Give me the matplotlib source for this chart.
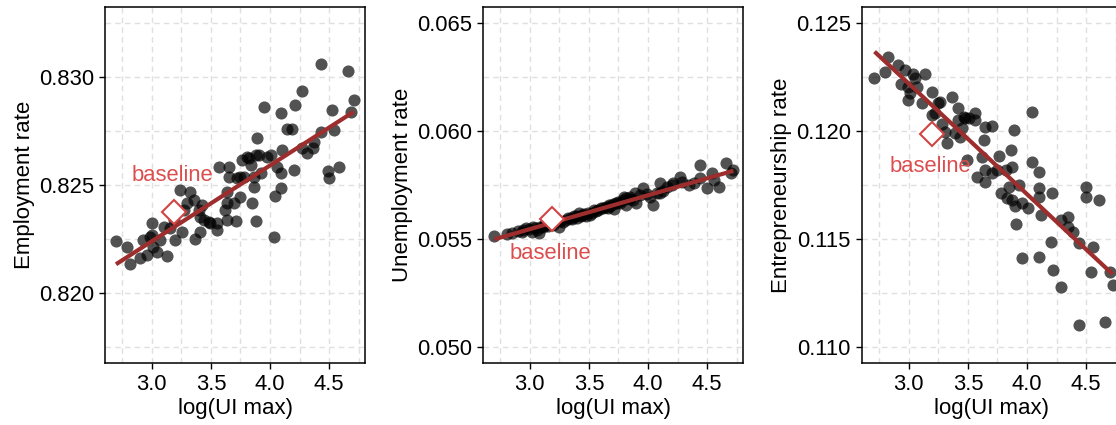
import matplotlib
matplotlib.use("Agg")
from matplotlib import pyplot as plt
from matplotlib.ticker import MultipleLocator

plt.rcParams['font.family'] = ['Liberation Sans', 'DejaVu Sans']

# ---- panel 1: employment rate ----
emp_x = [2.694, 2.788, 2.816, 2.901, 2.929, 2.958, 3.000, 3.000, 2.986, 3.014,
         3.042, 3.071, 3.127, 3.099, 3.156, 3.198, 3.184, 3.241, 3.255, 3.269,
         3.297, 3.326, 3.354, 3.362, 3.396, 3.410, 3.410, 3.425, 3.439, 3.481,
         3.495, 3.552, 3.552, 3.566, 3.623, 3.637, 3.637, 3.651, 3.651, 3.637,
         3.693, 3.708, 3.722, 3.750, 3.750, 3.764, 3.778, 3.807, 3.821, 3.835,
         3.849, 3.863, 3.877, 3.863, 3.877, 3.892, 3.906, 3.920, 3.948, 3.977,
         4.005, 4.042, 4.033, 4.061, 4.090, 4.090, 4.090, 4.104, 4.146, 4.189,
         4.203, 4.209, 4.274, 4.274, 4.316, 4.359, 4.373, 4.429, 4.429, 4.486,
         4.500, 4.528, 4.543, 4.585, 4.656, 4.684, 4.712]
emp_y = [0.82243, 0.82215, 0.82134, 0.82165, 0.82246, 0.82177, 0.82323, 0.82269, 0.82262, 0.82215,
         0.82189, 0.82246, 0.82172, 0.82308, 0.82303, 0.82246, 0.82338, 0.82477, 0.82285, 0.82385,
         0.82415, 0.82469, 0.82431, 0.82249, 0.82385, 0.82285, 0.82354, 0.82408, 0.82338, 0.82331,
         0.82323, 0.82292, 0.82326, 0.82585, 0.82385, 0.82415, 0.82469, 0.82585, 0.82538, 0.82338,
         0.82415, 0.82335, 0.82531, 0.82446, 0.82538, 0.82615, 0.82538, 0.82628, 0.82623, 0.82592,
         0.82418, 0.82492, 0.82334, 0.82538, 0.82638, 0.82715, 0.82638, 0.82554, 0.82862, 0.82631,
         0.82638, 0.82449, 0.82262, 0.82585, 0.82554, 0.82831, 0.82485, 0.82662, 0.82757, 0.82757,
         0.82569, 0.82868, 0.82934, 0.82669, 0.82646, 0.82669, 0.82700, 0.82746, 0.83058, 0.82566,
         0.82534, 0.82846, 0.82754, 0.82585, 0.83028, 0.82837, 0.82892]
emp_fit_x = [2.697, 4.707]
emp_fit_y = [0.82134, 0.82838]
emp_base = (3.184, 0.82374)
emp_label = (3.17, 0.82543)

# ---- panel 2: unemployment rate ----
unemp_x = [2.695, 2.803, 2.850, 2.903, 2.930, 2.946, 2.970, 2.989, 3.017, 3.030,
           3.046, 3.060, 3.074, 3.088, 3.110, 3.120, 3.131, 3.150, 3.174, 3.200,
           3.217, 3.230, 3.245, 3.259, 3.280, 3.302, 3.320, 3.345, 3.360, 3.375,
           3.388, 3.400, 3.416, 3.430, 3.445, 3.460, 3.473, 3.488, 3.510, 3.530,
           3.545, 3.559, 3.580, 3.602, 3.620, 3.644, 3.660, 3.673, 3.680, 3.701,
           3.716, 3.730, 3.744, 3.760, 3.787, 3.800, 3.816, 3.816, 3.844, 3.850,
           3.873, 3.887, 3.901, 3.930, 3.958, 3.987, 4.015, 4.044, 4.072, 4.101,
           4.101, 4.129, 4.158, 4.200, 4.215, 4.272, 4.286, 4.343, 4.386, 4.443,
           4.443, 4.500, 4.543, 4.557, 4.600, 4.657, 4.699, 4.722]
unemp_y = [0.05515, 0.05522, 0.05527, 0.05537, 0.05532, 0.05542, 0.05549, 0.05545, 0.05534, 0.05556,
           0.05549, 0.05542, 0.05526, 0.05557, 0.05555, 0.05566, 0.05563, 0.05559, 0.05570, 0.05566,
           0.05576, 0.05583, 0.05557, 0.05585, 0.05580, 0.05588, 0.05596, 0.05596, 0.05590, 0.05606,
           0.05604, 0.05596, 0.05619, 0.05607, 0.05611, 0.05615, 0.05604, 0.05619, 0.05612, 0.05622,
           0.05634, 0.05631, 0.05636, 0.05642, 0.05645, 0.05650, 0.05642, 0.05658, 0.05653, 0.05662,
           0.05638, 0.05667, 0.05673, 0.05668, 0.05681, 0.05694, 0.05689, 0.05658, 0.05696, 0.05685,
           0.05681, 0.05715, 0.05665, 0.05704, 0.05738, 0.05709, 0.05696, 0.05655, 0.05712, 0.05761,
           0.05712, 0.05720, 0.05743, 0.05751, 0.05761, 0.05789, 0.05766, 0.05751, 0.05761, 0.05843,
           0.05781, 0.05735, 0.05805, 0.05774, 0.05743, 0.05851, 0.05805, 0.05820]
unemp_fit_x = [2.700, 4.722]
unemp_fit_y = [0.05498, 0.05816]
unemp_base = (3.191, 0.05593)
unemp_label = (3.174, 0.05434)

# ---- panel 3: entrepreneurship rate ----
entr_x = [2.705, 2.795, 2.824, 2.909, 2.938, 2.966, 2.994, 2.994, 3.009, 3.037,
          3.051, 3.065, 3.108, 3.136, 3.193, 3.193, 3.222, 3.250, 3.264, 3.278,
          3.307, 3.321, 3.364, 3.392, 3.420, 3.420, 3.435, 3.449, 3.463, 3.477,
          3.491, 3.506, 3.557, 3.563, 3.577, 3.619, 3.634, 3.648, 3.648, 3.648,
          3.705, 3.705, 3.747, 3.761, 3.776, 3.818, 3.832, 3.847, 3.861, 3.869,
          3.875, 3.889, 3.898, 3.903, 3.932, 3.955, 3.960, 4.011, 4.045, 4.045,
          4.097, 4.102, 4.102, 4.102, 4.116, 4.210, 4.202, 4.216, 4.287, 4.287,
          4.344, 4.344, 4.386, 4.443, 4.443, 4.500, 4.500, 4.557, 4.543, 4.608,
          4.656, 4.699, 4.727]
entr_y = [0.12245, 0.12276, 0.12342, 0.12307, 0.12217, 0.12284, 0.12144, 0.12206, 0.12175, 0.12265,
          0.12245, 0.12206, 0.12129, 0.12265, 0.12183, 0.12075, 0.12082, 0.12129, 0.12137, 0.12033,
          0.11997, 0.11943, 0.12160, 0.11990, 0.12106, 0.12052, 0.11974, 0.12013, 0.12067, 0.12059,
          0.11866, 0.12059, 0.12082, 0.12052, 0.11789, 0.11881, 0.11959, 0.12021, 0.11820, 0.11765,
          0.12024, 0.11804, 0.11820, 0.11885, 0.11711, 0.11820, 0.11688, 0.11742, 0.11912, 0.11835,
          0.11680, 0.12005, 0.11653, 0.11569, 0.11750, 0.11410, 0.11665, 0.11642, 0.12090, 0.11855,
          0.11812, 0.11735, 0.11696, 0.11418, 0.11611, 0.11711, 0.11487, 0.11356, 0.11588, 0.11275,
          0.11603, 0.11557, 0.11534, 0.11479, 0.11101, 0.11742, 0.11696, 0.11464, 0.11348, 0.11680,
          0.11116, 0.11348, 0.11286]
entr_fit_x = [2.710, 4.722]
entr_fit_y = [0.12369, 0.11337]
entr_base = (3.196, 0.11985)
entr_label = (3.179, 0.11835)

panels = [
    ("Employment rate", emp_x, emp_y, emp_fit_x, emp_fit_y, emp_base, emp_label,
     (0.81678, 0.83322), ["0.820", "0.825", "0.830"], [0.820, 0.825, 0.830]),
    ("Unemployment rate", unemp_x, unemp_y, unemp_fit_x, unemp_fit_y, unemp_base, unemp_label,
     (0.04924, 0.06576), ["0.050", "0.055", "0.060", "0.065"], [0.050, 0.055, 0.060, 0.065]),
    ("Entrepreneurship rate", entr_x, entr_y, entr_fit_x, entr_fit_y, entr_base, entr_label,
     (0.10924, 0.12576), ["0.110", "0.115", "0.120", "0.125"], [0.110, 0.115, 0.120, 0.125]),
]

W, H = 1116, 425
fig = plt.figure(figsize=(W / 100, H / 100), dpi=100)
lefts = [105, 483, 862]
for (ylab, xs, ys, fx, fy, base, lab, ylim, yticklabels, yticks), left in zip(panels, lefts):
    ax = fig.add_axes([left / W, 62 / H, 260 / W, 356 / H])
    ax.set_xlim(2.604, 4.803)
    ax.set_ylim(*ylim)
    ax.xaxis.set_major_locator(MultipleLocator(0.5))
    ax.xaxis.set_minor_locator(MultipleLocator(0.25))
    ax.set_yticks(yticks)
    ax.set_yticklabels(yticklabels)
    ax.yaxis.set_minor_locator(MultipleLocator(0.0025))
    ax.grid(True, which='both', linestyle=(0, (4, 3)), color='#e0e0e0', linewidth=1.0)
    ax.set_axisbelow(True)
    ax.tick_params(which='major', direction='out', length=4.5, width=1, labelsize=15.8,
                   colors='black')
    ax.tick_params(which='minor', length=0)
    for sp in ax.spines.values():
        sp.set_linewidth(1.1)
        sp.set_color('black')

    ax.scatter(xs, ys, s=76, color='black', alpha=0.68, linewidths=0, zorder=2)
    ax.plot(fx, fy, color='#9e2d2d', linewidth=3.0, solid_capstyle='butt', zorder=3)
    ax.plot([base[0]], [base[1]], marker='D', markersize=12, markerfacecolor='white',
            markeredgecolor='#d04444', markeredgewidth=1.5, zorder=4)
    ax.text(lab[0], lab[1], "baseline", color='#dc4e4e', fontsize=15.8,
            ha='center', va='center', zorder=5)

    ax.set_xlabel("log(UI max)", fontsize=16, labelpad=2)
    ax.set_ylabel(ylab, fontsize=16, labelpad=3)

fig.savefig("out.png", dpi=100)
